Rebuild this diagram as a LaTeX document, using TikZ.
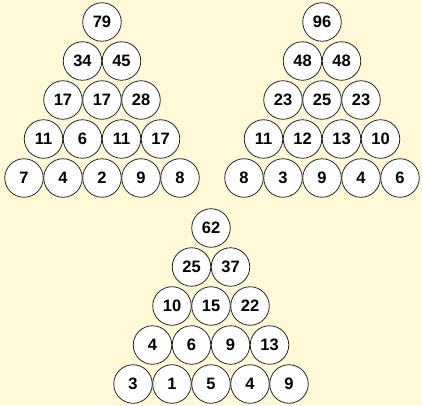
\documentclass[tikz,border=0pt]{standalone}
\usepackage{fontspec}
\setmainfont{Liberation Sans}
\definecolor{paper}{HTML}{FFF9D7}
\tikzset{ball/.style={draw=black!85, line width=0.8pt, circle, fill=white, minimum size=38.5pt, inner sep=0pt, font=\fontsize{16.5}{17}\selectfont\bfseries}}
\begin{document}
\begin{tikzpicture}[x=1pt,y=-1pt]
\fill[paper] (0,0) rectangle (422,405);
\useasboundingbox (0,0) rectangle (422,405);
% left pyramid
\node[ball] (a11) at (102,22) {79};
\node[ball] (a21) at (82.5,61) {34};
\node[ball] (a22) at (121.5,61) {45};
\node[ball] (a31) at (63,100) {17};
\node[ball] (a32) at (102,100) {17};
\node[ball] (a33) at (141,100) {28};
\node[ball] (a41) at (43.5,139) {11};
\node[ball] (a42) at (82.5,139) {6};
\node[ball] (a43) at (121.5,139) {11};
\node[ball] (a44) at (160.5,139) {17};
\node[ball] (a51) at (24,178) {7};
\node[ball] (a52) at (63,178) {4};
\node[ball] (a53) at (102,178) {2};
\node[ball] (a54) at (141,178) {9};
\node[ball] (a55) at (180,178) {8};
% right pyramid
\node[ball] (b11) at (322,22) {96};
\node[ball] (b21) at (302.5,61) {48};
\node[ball] (b22) at (341.5,61) {48};
\node[ball] (b31) at (283,100) {23};
\node[ball] (b32) at (322,100) {25};
\node[ball] (b33) at (361,100) {23};
\node[ball] (b41) at (263.5,139) {11};
\node[ball] (b42) at (302.5,139) {12};
\node[ball] (b43) at (341.5,139) {13};
\node[ball] (b44) at (380.5,139) {10};
\node[ball] (b51) at (244,178) {8};
\node[ball] (b52) at (283,178) {3};
\node[ball] (b53) at (322,178) {9};
\node[ball] (b54) at (361,178) {4};
\node[ball] (b55) at (400,178) {6};
% bottom pyramid
\node[ball] (c11) at (211,228) {62};
\node[ball] (c21) at (191.5,267) {25};
\node[ball] (c22) at (230.5,267) {37};
\node[ball] (c31) at (172,306) {10};
\node[ball] (c32) at (211,306) {15};
\node[ball] (c33) at (250,306) {22};
\node[ball] (c41) at (152.5,345) {4};
\node[ball] (c42) at (191.5,345) {6};
\node[ball] (c43) at (230.5,345) {9};
\node[ball] (c44) at (269.5,345) {13};
\node[ball] (c51) at (133,384) {3};
\node[ball] (c52) at (172,384) {1};
\node[ball] (c53) at (211,384) {5};
\node[ball] (c54) at (250,384) {4};
\node[ball] (c55) at (289,384) {9};
\end{tikzpicture}
\end{document}
